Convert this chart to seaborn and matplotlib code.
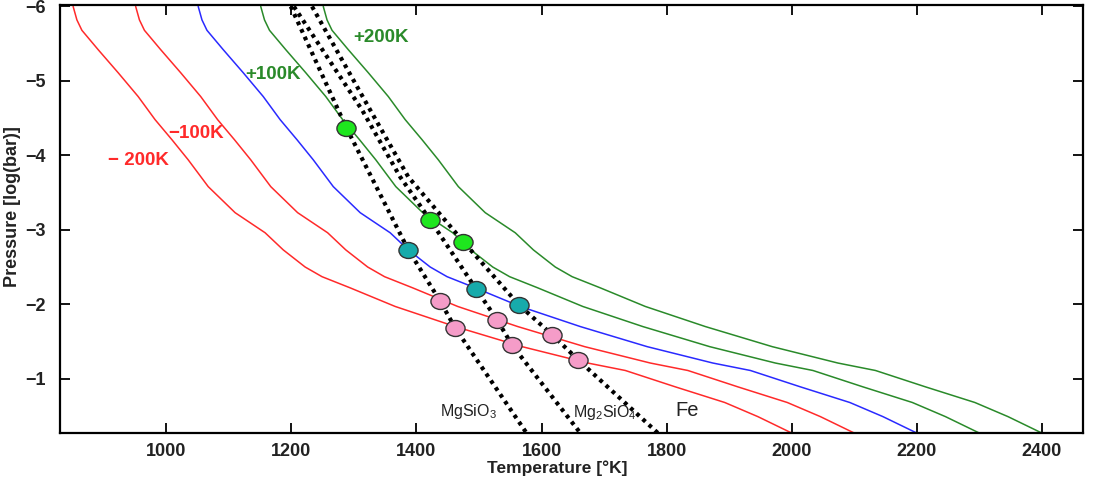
import numpy as np
import pandas as pd
import matplotlib
matplotlib.use("Agg")
import matplotlib.pyplot as plt
from matplotlib.path import Path
from matplotlib.transforms import Affine2D
import seaborn as sns

# ---- data ----
# base (blue) P-T profile: temperature [K], log pressure [bar]
base_T = [1051, 1057, 1065, 1091, 1123, 1155, 1182, 1209, 1235, 1267, 1310, 1358,
          1387, 1422, 1449, 1494, 1566, 1662, 1769, 1874, 1934, 2014, 2093, 2146, 2200]
base_P = [-6.00, -5.82, -5.68, -5.42, -5.11, -4.79, -4.48, -4.21, -3.94, -3.58, -3.23, -2.96,
          -2.73, -2.50, -2.37, -2.22, -1.97, -1.70, -1.43, -1.21, -1.11, -0.89, -0.68, -0.49, -0.27]
offsets = [-200, -100, 0, 100, 200]
profile_colors = ["#ff2a2a", "#ff2a2a", "#2a2aff", "#2a8a2a", "#2a8a2a"]

# condensation curves
mgsio3_T = [1199, 1288, 1387, 1438, 1462, 1576]
mgsio3_P = [-6.0, -4.37, -2.73, -2.04, -1.68, -0.27]
mg2sio4_T = [1204, 1313, 1374, 1422, 1495, 1529, 1553, 1662]
mg2sio4_P = [-6.0, -4.61, -3.71, -3.13, -2.21, -1.79, -1.45, -0.27]
fe_T = [1233, 1326, 1387, 1475, 1564, 1617, 1659, 1786]
fe_P = [-6.0, -4.61, -3.71, -2.84, -1.99, -1.59, -1.25, -0.27]

# intersection markers
green_T = [1288, 1422, 1475]
green_P = [-4.37, -3.13, -2.83]
cyan_T = [1387, 1495, 1564]
cyan_P = [-2.73, -2.21, -1.99]
pink_T = [1438, 1529, 1617, 1462, 1553, 1659]
pink_P = [-2.04, -1.79, -1.58, -1.68, -1.45, -1.25]

# ---- style ----
sns.set_theme(style="ticks")
plt.rcParams["font.family"] = ["Liberation Sans", "DejaVu Sans"]
plt.rcParams["mathtext.fontset"] = "custom"
plt.rcParams["mathtext.rm"] = "Liberation Sans"

fig = plt.figure(figsize=(10.93, 4.8), dpi=100)
ax = fig.add_axes([0.0549, 0.0979, 0.9360, 0.8917])

rows = []
for off in offsets:
    for t, p in zip(base_T, base_P):
        rows.append({"T": t + off, "P": p, "offset": str(off)})
df = pd.DataFrame(rows)
sns.lineplot(data=df, x="T", y="P", hue="offset",
             palette=dict(zip([str(o) for o in offsets], profile_colors)),
             sort=False, estimator=None, linewidth=1.1, legend=False, ax=ax)

for tt, pp in [(mgsio3_T, mgsio3_P), (mg2sio4_T, mg2sio4_P), (fe_T, fe_P)]:
    ax.plot(tt, pp, color="black", linewidth=3.0, linestyle=(0, (0.9, 1.1)),
            dash_capstyle="butt", zorder=3)

ellipse = Path.unit_circle().transformed(Affine2D().scale(1.2, 1.0))
for tt, pp, c in [(green_T, green_P, "#1ee61e"), (cyan_T, cyan_P, "#17abab"),
                  (pink_T, pink_P, "#f59cc8")]:
    sns.scatterplot(x=tt, y=pp, color=c, s=190, marker=ellipse, edgecolor="#333333",
                    linewidth=1.0, zorder=5, ax=ax)

# labels on curves
ax.text(955, -3.93, "\u2212 200K", color="#ff2a2a", fontsize=13.5, fontweight="bold", ha="center", va="center")
ax.text(1048, -4.30, "\u2212100K", color="#ff2a2a", fontsize=13.5, fontweight="bold", ha="center", va="center")
ax.text(1170, -5.08, "+100K", color="#2a8a2a", fontsize=13.5, fontweight="bold", ha="center", va="center")
ax.text(1343, -5.58, "+200K", color="#2a8a2a", fontsize=13.5, fontweight="bold", ha="center", va="center")
ax.text(1483, -0.56, r"$\mathregular{MgSiO_3}$", color="#222222", fontsize=11.5, ha="center", va="center")
ax.text(1702, -0.545, r"$\mathregular{Mg_2SiO_4}$", color="#222222", fontsize=11.5, ha="center", va="center")
ax.text(1833, -0.57, "Fe", color="#222222", fontsize=14.5, ha="center", va="center")

ax.set_xlim(830, 2466)
ax.set_ylim(-0.27, -6.02)
ax.set_xticks([1000, 1200, 1400, 1600, 1800, 2000, 2200, 2400])
ax.set_yticks([-6, -5, -4, -3, -2, -1])
ax.tick_params(direction="in", length=7, width=1.3, top=True, right=True,
               labelsize=13, colors="black")
ax.tick_params(axis="x", pad=7)
ax.tick_params(axis="y", pad=10)
for lab in ax.get_xticklabels() + ax.get_yticklabels():
    lab.set_fontweight("bold")
    lab.set_color("#222222")
for sp in ax.spines.values():
    sp.set_visible(True)
    sp.set_linewidth(1.6)
    sp.set_color("black")

ax.set_xlabel("Temperature [\u00b0K]", fontsize=12.5, fontweight="bold", color="#222222")
ax.set_ylabel("Pressure [log(bar)]", fontsize=13, fontweight="bold", color="#222222")
ax.xaxis.set_label_coords(0.486, -0.063)
ax.yaxis.set_label_coords(-0.046, 0.53)
ax.xaxis.label.set_va("top")
ax.yaxis.label.set_va("center")

fig.savefig("out.png", dpi=100)
